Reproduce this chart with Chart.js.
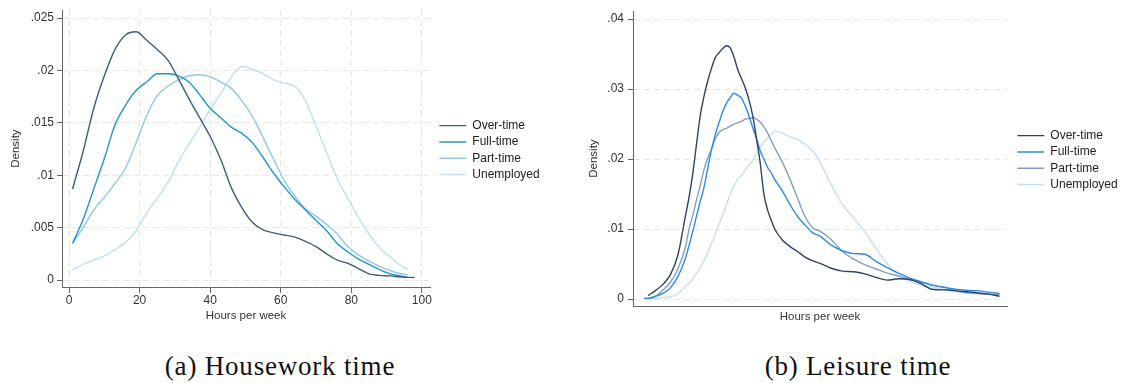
<!DOCTYPE html>
<html>
<head>
<meta charset="utf-8">
<script src="https://cdn.jsdelivr.net/npm/chart.js@4/dist/chart.umd.min.js"></script>
<style>
  body { margin: 0; background: #fff; width: 1124px; height: 383px; position: relative; overflow: hidden; }
  canvas { position: absolute; top: 0; }
  #houseChart { left: 0; }
  #leisureChart { left: 570px; }
  .caption {
    position: absolute; top: 353px; width: 400px; text-align: center;
    font-family: "Liberation Serif", "DejaVu Serif", serif; font-size: 27px; line-height: 1;
    letter-spacing: 0.8px; color: #111;
  }
</style>
</head>
<body>
<canvas id="houseChart" width="560" height="330"></canvas>
<canvas id="leisureChart" width="566" height="330"></canvas>
<div class="caption" style="left: 80px;">(a) Housework time</div>
<div class="caption" style="left: 658px;">(b) Leisure time</div>
<script>
const seriesNames = ["Over-time", "Full-time", "Part-time", "Unemployed"];

// housework time (hours per week)
const houseHours = [1, 4, 7, 10, 13, 16, 19, 22, 25, 28, 31, 34, 37, 40, 43, 46, 49, 52, 55, 58,
  61, 64, 67, 70, 73, 76, 79, 82, 85, 88, 91, 94, 96, 98];
const houseOverTime = [.0087, .0123, .0164, .0195, .0220, .0234, .0237, .0229, .0220, .0210, .0192, .0173,
  .0155, .0137, .0115, .0088, .0069, .0055, .0048, .0045, .0043, .0041, .0037, .0032, .0025, .0019,
  .0016, .0011, .0006, .00045, .0004, .0003, .00026, .00026];
const houseFullTime = [.0035, .0058, .0087, .0116, .0148, .0167, .0181, .0189, .0197, .0197, .0195, .0189,
  .0177, .0164, .0155, .0146, .0140, .0131, .0117, .0102, .0089, .0077, .0067, .0057, .0047, .0035,
  .0027, .0020, .0015, .0010, .0006, .0004, .00025, null];
const housePartTime = [.0035, .0050, .0067, .0079, .0092, .0107, .0131, .0157, .0176, .0185, .0191, .0195,
  .0196, .0194, .0189, .0183, .0171, .0156, .0136, .0115, .0095, .0080, .0068, .0061, .0053, .0044,
  .0032, .0024, .0018, .0013, .0009, .0006, .0005, null];
const houseUnemployed = [.0010, .0015, .0019, .0023, .0029, .0036, .0047, .0064, .0078, .0093, .0113, .0130,
  .0146, .0163, .0178, .0194, .0204, .0201, .0197, .0191, .0188, .0185, .0171, .0147, .0122, .0097,
  .0078, .0060, .0044, .0031, .0022, .0014, .0010, null];
const houseTicksX = [0, 20, 40, 60, 80, 100];
const houseTicksY = [0, .005, .01, .015, .02, .025];
const houseTickLabelsY = ["0", ".005", ".01", ".015", ".02", ".025"];

// leisure time (axis has no tick labels)
const leisurePos = [3, 4, 6, 8, 10, 12, 14, 15, 16, 17, 18, 19, 20, 21, 22, 23, 24, 25, 26, 27, 28, 29, 30,
  31, 32, 33, 34, 35, 36, 37, 38, 40, 42, 44, 46, 48, 50, 53, 56, 59, 62, 65, 68, 71, 74, 77, 80, 84, 88, 92, 95, 98];
const leisureOverTime = [null, .0005, .0012, .0021, .0035, .0063, .0118, .0146, .0180, .0222, .0263, .0290, .0312,
  .0330, .0345, .0352, .0358, .0362, .0359, .0346, .0328, .0315, .0302, .0285, .0262, .0230, .0195, .0150,
  .0127, .0112, .0099, .0084, .0075, .0068, .0060, .0055, .0051, .0044, .0040, .0039, .0036, .0031, .0027,
  .0029, .0028, .0022, .0014, .0013, .0011, .0009, .0007, .0004];
const leisureFullTime = [.0001, .0001, .0004, .0008, .0016, .0032, .0058, .0077, .0097, .0119, .0140, .0160, .0187,
  .0214, .0235, .0252, .0268, .0280, .0288, .0294, .0291, .0287, .0276, .0262, .0245, .0230, .0212, .0200,
  .0188, .0180, .0170, .0154, .0135, .0118, .0106, .0095, .0090, .0077, .0069, .0065, .0064, .0054, .0045,
  .0037, .0030, .0025, .0020, .0016, .0013, .0012, .0010, .0008];
const leisurePartTime = [.0001, .0001, .0004, .0013, .0024, .0043, .0074, .0100, .0120, .0142, .0163, .0185, .0202,
  .0214, .0229, .0238, .0242, .0244, .0247, .0250, .0252, .0254, .0257, .0258, .0259, .0257, .0253, .0246,
  .0237, .0226, .0215, .0195, .0171, .0144, .0118, .0102, .0097, .0085, .0068, .0057, .0049, .0043, .0037,
  .0033, .0028, .0024, .0020, .0016, .0010, .0008, .0007, .0006];
const leisureUnemployed = [.0001, .0001, .0001, .0002, .0003, .0008, .0018, .0023, .0029, .0037, .0046, .0055, .0067,
  .0080, .0093, .0107, .0121, .0135, .0150, .0162, .0171, .0177, .0184, .0191, .0198, .0207, .0217, .0224,
  .0230, .0236, .0240, .0237, .0232, .0228, .0221, .0212, .0196, .0163, .0135, .0116, .0096, .0072, .0050,
  .0034, .0025, .0020, .0017, .0013, .0009, .0008, .0007, .0007];
const leisureTicksY = [0, .01, .02, .03, .04];
const leisureTickLabelsY = ["0", ".01", ".02", ".03", ".04"];

const houseColors = ["#3d5c80", "#2098cc", "#8fc8e9", "#bce0f2"];
const leisureColors = ["#2b4466", "#2f8ae6", "#7f9fc7", "#c6def4"];

const fontFamily = "'Liberation Sans', Arial, sans-serif";
Chart.defaults.font.family = fontFamily;
Chart.defaults.font.size = 12;
Chart.defaults.color = "#333";

// legend sizes, so the plot area can be put where the reference has it
const legendPad = 4.3;
const legendLine = 27;
const measureCtx = document.createElement("canvas").getContext("2d");
measureCtx.font = "12px " + fontFamily;
const legendTextW = Math.max(...seriesNames.map((n) => measureCtx.measureText(n).width));
const legendW = legendPad + legendLine + 6 + legendTextW + 10;

function toPoints(xs, ys) {
  return xs.map((x, i) => ({ x: x, y: ys[i] })).filter((p) => p.y !== null);
}

function makeDatasets(xs, seriesList, colors) {
  return seriesList.map((ys, i) => ({
    label: seriesNames[i],
    data: toPoints(xs, ys),
    borderColor: colors[i],
    backgroundColor: colors[i],
    borderWidth: 1.4,
    pointRadius: 0,
    cubicInterpolationMode: "monotone",
  }));
}

function legendOpts() {
  return {
    position: "right",
    fullSize: false,
    maxWidth: 300,
    title: { display: true, text: "", font: { size: 1 }, padding: { top: 1, bottom: 0.8 } },
    labels: {
      usePointStyle: true,
      pointStyle: "line",
      pointStyleWidth: legendLine,
      padding: legendPad,
      color: "#222",
      font: { size: 12 },
    },
  };
}

const gridDash = [6, 4];

const houseGap = 5;
const houseChart = new Chart(document.getElementById("houseChart"), {
  type: "line",
  data: {
    datasets: makeDatasets(houseHours, [houseOverTime, houseFullTime, housePartTime, houseUnemployed], houseColors),
  },
  options: {
    responsive: false,
    animation: false,
    devicePixelRatio: 1,
    layout: { padding: { top: 8, right: 560 - 430 - houseGap - legendW, left: 0, bottom: 0 } },
    plugins: { legend: legendOpts(), tooltip: { enabled: false } },
    scales: {
      x: {
        type: "linear",
        min: -2,
        max: 102.3,
        afterBuildTicks: (s) => { s.ticks = houseTicksX.map((v) => ({ value: v })); },
        afterFit: (s) => { s.height = 43; },
        ticks: { padding: 0, font: { size: 12 }, color: "#333" },
        grid: { color: "#e6e6e6", tickColor: "#666", tickLength: 6 },
        border: { color: "#666", width: 1, dash: gridDash },
        title: { display: true, text: "Hours per week", font: { size: 11.5 }, color: "#333", padding: { bottom: 7, top: 0 } },
      },
      y: {
        type: "linear",
        min: -0.00066,
        max: 0.02576,
        afterBuildTicks: (s) => { s.ticks = houseTicksY.map((v) => ({ value: v })); },
        afterFit: (s) => { s.width = 62; },
        ticks: {
          padding: 3,
          font: { size: 12 },
          color: "#333",
          callback: (v) => houseTickLabelsY[houseTicksY.indexOf(v)],
        },
        grid: { color: "#e6e6e6", tickColor: "#666", tickLength: 5 },
        border: { color: "#666", width: 1, dash: gridDash },
        title: { display: true, text: "Density", font: { size: 11.5 }, color: "#333", padding: { top: 9, bottom: 0 } },
      },
      gap: {
        type: "linear",
        position: "right",
        display: true,
        afterFit: (s) => { s.width = houseGap; },
        ticks: { display: false },
        grid: { display: false, drawTicks: false },
        border: { display: false },
      },
    },
  },
});

const leisureGap = 6;
const leisureChart = new Chart(document.getElementById("leisureChart"), {
  type: "line",
  data: {
    datasets: makeDatasets(leisurePos, [leisureOverTime, leisureFullTime, leisurePartTime, leisureUnemployed], leisureColors),
  },
  options: {
    responsive: false,
    animation: false,
    devicePixelRatio: 1,
    layout: { padding: { top: 8, right: 566 - 437 - leisureGap - legendW, left: 0, bottom: 0 } },
    plugins: { legend: legendOpts(), tooltip: { enabled: false } },
    scales: {
      x: {
        type: "linear",
        min: 0,
        max: 100,
        afterFit: (s) => { s.height = 24; },
        ticks: { display: false },
        grid: { display: false, drawTicks: false },
        border: { color: "#666", width: 1 },
        title: { display: true, text: "Hours per week", font: { size: 11.5 }, color: "#333", padding: { bottom: 6, top: 0 } },
      },
      y: {
        type: "linear",
        min: -0.00099,
        max: 0.04113,
        afterBuildTicks: (s) => { s.ticks = leisureTicksY.map((v) => ({ value: v })); },
        afterFit: (s) => { s.width = 63; },
        ticks: {
          padding: 4,
          font: { size: 12 },
          color: "#333",
          callback: (v) => leisureTickLabelsY[leisureTicksY.indexOf(v)],
        },
        grid: { color: "#e6e6e6", tickColor: "#666", tickLength: 5 },
        border: { color: "#666", width: 1, dash: gridDash },
        title: { display: true, text: "Density", font: { size: 11.5 }, color: "#333", padding: { top: 17, bottom: 0 } },
      },
      gap: {
        type: "linear",
        position: "right",
        display: true,
        afterFit: (s) => { s.width = leisureGap; },
        ticks: { display: false },
        grid: { display: false, drawTicks: false },
        border: { display: false },
      },
    },
  },
});
</script>
</body>
</html>
